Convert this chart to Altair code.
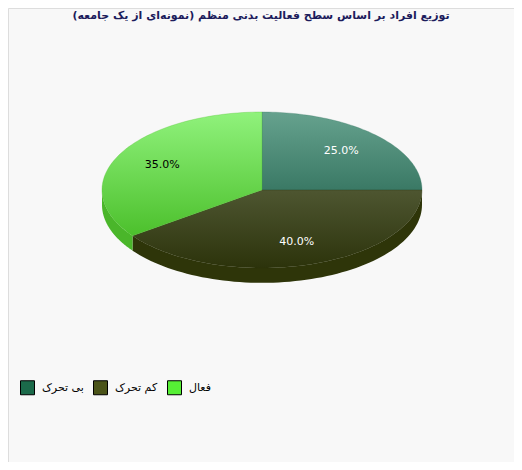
import altair as alt
import pandas as pd

categories = ["بی تحرک", "کم تحرک", "فعال"]
values = [25, 40, 35]
legend_colors = ["#1b6a4a", "#4b5419", "#56ef35"]
top_light = ["#66a28e", "#4e5631", "#90f27c"]
top_dark = ["#3a7965", "#2c330b", "#4cc02c"]
wall_colors = ["#2f6a55", "#2e3509", "#4ab62a"]
label_colors = ["white", "white", "black"]
title_text = "توزیع افراد بر اساس سطح فعالیت بدنی منظم (نمونه‌ای از یک جامعه)"

df = pd.DataFrame({
    "category": categories,
    "value": values,
    "order": list(range(len(categories))),
    "wall": wall_colors,
    "lab": label_colors,
})

N = 72
DEPTH = 0.19
FONT = "DejaVu Sans"

xs = alt.Scale(domain=[-1.5875, 1.575], nice=False, zero=False)
ys = alt.Scale(domain=[-3.487, 2.333], nice=False, zero=False)

base = alt.Chart(df).transform_joinaggregate(
    total="sum(value)"
).transform_window(
    cum="sum(value)", sort=[alt.SortField("order")], frame=[None, 0]
).transform_calculate(
    start="2*PI*(datum.cum - datum.value)/datum.total",
    end="2*PI*datum.cum/datum.total",
)

# side walls (front half of the ellipse) as closed polygons
walls = base.transform_calculate(
    ws="max(datum.start, PI/2)", we="min(datum.end, 3*PI/2)"
).transform_filter("datum.we > datum.ws").transform_calculate(
    pts=f"sequence(0, {2 * N + 2})"
).transform_flatten(["pts"]).transform_calculate(
    k=f"datum.pts <= {N} ? datum.pts : {2 * N + 1} - datum.pts"
).transform_calculate(
    ang=f"datum.ws + (datum.we - datum.ws)*datum.k/{N}"
).transform_calculate(
    px="sin(datum.ang)",
    py=f"datum.pts <= {N} ? cos(datum.ang) : cos(datum.ang) - {DEPTH}",
).mark_line(interpolate="linear-closed", filled=True, strokeWidth=0).encode(
    x=alt.X("px:Q", scale=xs, axis=None),
    y=alt.Y("py:Q", scale=ys, axis=None),
    order="pts:Q",
    detail="category:N",
    fill=alt.Fill("wall:N", scale=None),
)

faces_base = base.transform_calculate(
    pts=f"sequence(0, {N + 2})"
).transform_flatten(["pts"]).transform_calculate(
    ang=f"datum.start + (datum.end - datum.start)*(datum.pts - 1)/{N}"
).transform_calculate(
    px="datum.pts == 0 ? 0 : sin(datum.ang)",
    py="datum.pts == 0 ? 0 : cos(datum.ang)",
)

face_layers = []
for c, l, d in zip(categories, top_light, top_dark):
    face_layers.append(
        faces_base.transform_filter(alt.datum.category == c).mark_line(
            interpolate="linear-closed",
            fill=alt.Gradient(
                gradient="linear",
                stops=[alt.GradientStop(color=l, offset=0), alt.GradientStop(color=d, offset=1)],
                x1=0, y1=0, x2=0, y2=1,
            ),
            stroke=d,
            strokeWidth=0.5,
            strokeOpacity=0.6,
        ).encode(
            x=alt.X("px:Q", scale=xs, axis=None),
            y=alt.Y("py:Q", scale=ys, axis=None),
            order="pts:Q",
            detail="category:N",
        )
    )

labels = base.transform_calculate(
    lx="0.7*sin((datum.start + datum.end)/2)",
    ly="0.7*cos((datum.start + datum.end)/2)",
    pct="format(datum.value/datum.total, '.1%')",
).mark_text(font=FONT, fontSize=11).encode(
    x=alt.X("lx:Q", scale=xs, axis=None),
    y=alt.Y("ly:Q", scale=ys, axis=None),
    text="pct:N",
    fill=alt.Fill("lab:N", scale=None),
)

legend_layer = base.transform_calculate(px="0", py="0").mark_square(opacity=0).encode(
    x=alt.X("px:Q", scale=xs, axis=None),
    y=alt.Y("py:Q", scale=ys, axis=None),
    color=alt.Color(
        "category:N",
        scale=alt.Scale(domain=categories, range=legend_colors),
        sort=categories,
        legend=alt.Legend(
            title=None,
            orient="none",
            direction="horizontal",
            legendX=12,
            legendY=372,
            symbolType="square",
            symbolSize=196,
            symbolOpacity=1,
            symbolStrokeColor="black",
            symbolStrokeWidth=1,
            labelFont=FONT,
            labelFontSize=11,
            labelColor="black",
            labelOffset=7,
            columnPadding=7,
            padding=0,
        ),
    ),
)

chart = alt.layer(walls, *face_layers, labels, legend_layer).properties(
    width=506,
    height=454,
    autosize=alt.AutoSizeParams(type="none"),
    padding=0,
    title=alt.TitleParams(
        text=title_text,
        font=FONT,
        fontSize=11,
        fontWeight="bold",
        color="#1c1c5c",
        anchor="middle",
        offset=-13,
    ),
).configure_view(stroke=None).configure(background="#f8f8f8")

chart.save("out.html", embed_options={"renderer": "svg", "actions": False})
